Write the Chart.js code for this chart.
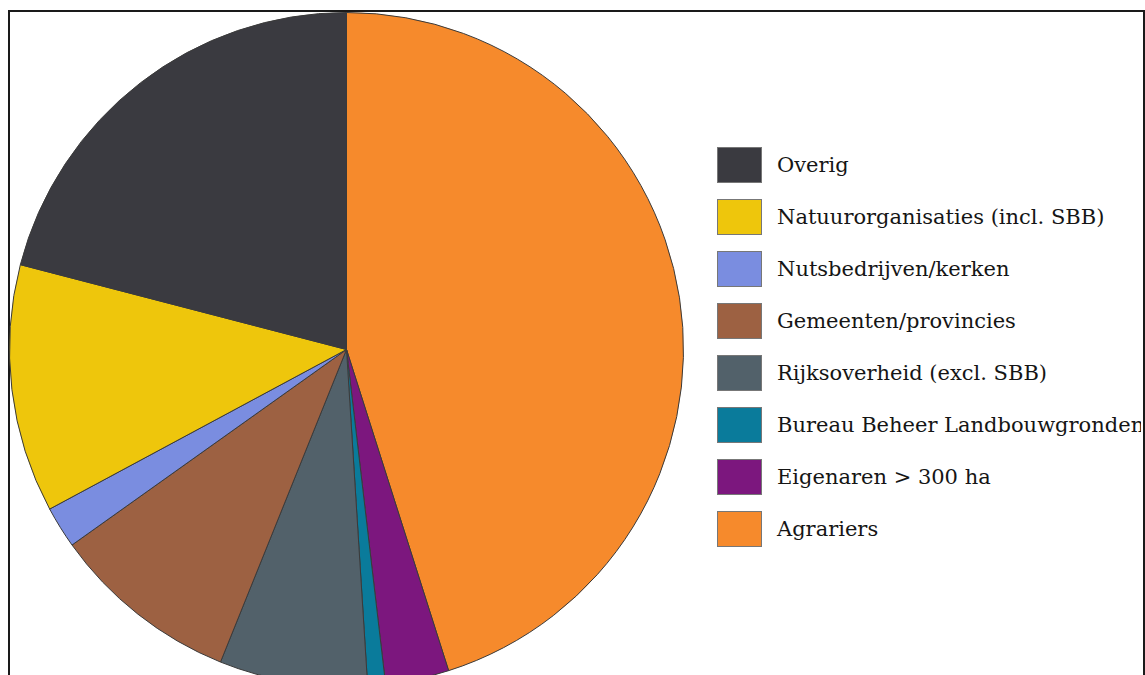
<!DOCTYPE html>
<html lang="nl">
<head>
  <meta charset="UTF-8" />
  <title>Grondeigendom</title>
  <script src="https://cdn.jsdelivr.net/npm/chart.js"></script>
  <style>
    html, body { margin: 0; padding: 0; background: #fff; overflow: hidden; }
    body { width: 1145px; height: 675px; position: relative; }
    #kader {
      position: absolute; left: 8px; top: 10px; width: 1133px; height: 700px;
      border: 2px solid #1a1a1a; border-bottom: none;
    }
    #taart { position: absolute; left: 9px; top: 12px; width: 675px; height: 675px; }
    #legenda {
      position: absolute; left: 717px; top: 139px; width: 424px; overflow: hidden;
      margin: 0; padding: 0; list-style: none;
      font-family: "DejaVu Serif", "Liberation Serif", serif; font-size: 21px; color: #151515;
      white-space: nowrap;
    }
    #legenda li { display: flex; align-items: center; height: 52px; }
    #legenda .vak { flex: none; width: 45px; height: 36px; border: 1px solid #777; box-sizing: border-box; margin-right: 15px; }
  </style>
</head>
<body>
  <div id="kader"></div>
  <div id="taart"><canvas id="grondChart"></canvas></div>
  <ul id="legenda"></ul>

  <script>
    // volgorde met de klok mee vanaf 12 uur
    const categorieen = [
      'Agrariers',
      'Eigenaren > 300 ha',
      'Bureau Beheer Landbouwgronden',
      'Rijksoverheid (excl. SBB)',
      'Gemeenten/provincies',
      'Nutsbedrijven/kerken',
      'Natuurorganisaties (incl. SBB)',
      'Overig'
    ];
    const aandeel = [45.1, 3.05, 0.85, 7.1, 9.05, 2.0, 11.9, 20.95];
    const kleuren = ['#f68a2c', '#7c177e', '#0a7b9b', '#52616a', '#9d6142', '#7a8de0', '#eec60c', '#3a3a40'];

    new Chart(document.getElementById('grondChart'), {
      type: 'pie',
      data: {
        labels: categorieen,
        datasets: [{
          data: aandeel,
          backgroundColor: kleuren,
          borderColor: '#3a3a3a',
          borderWidth: 1
        }]
      },
      options: {
        responsive: true,
        maintainAspectRatio: false,
        animation: false,
        layout: { padding: 0 },
        plugins: {
          legend: { display: false },
          tooltip: { enabled: false }
        }
      }
    });

    // legenda in omgekeerde volgorde (Overig bovenaan)
    const legenda = document.getElementById('legenda');
    for (let i = categorieen.length - 1; i >= 0; i--) {
      const li = document.createElement('li');
      const vak = document.createElement('span');
      vak.className = 'vak';
      vak.style.background = kleuren[i];
      const tekst = document.createElement('span');
      tekst.textContent = categorieen[i];
      li.appendChild(vak);
      li.appendChild(tekst);
      legenda.appendChild(li);
    }
  </script>
</body>
</html>
